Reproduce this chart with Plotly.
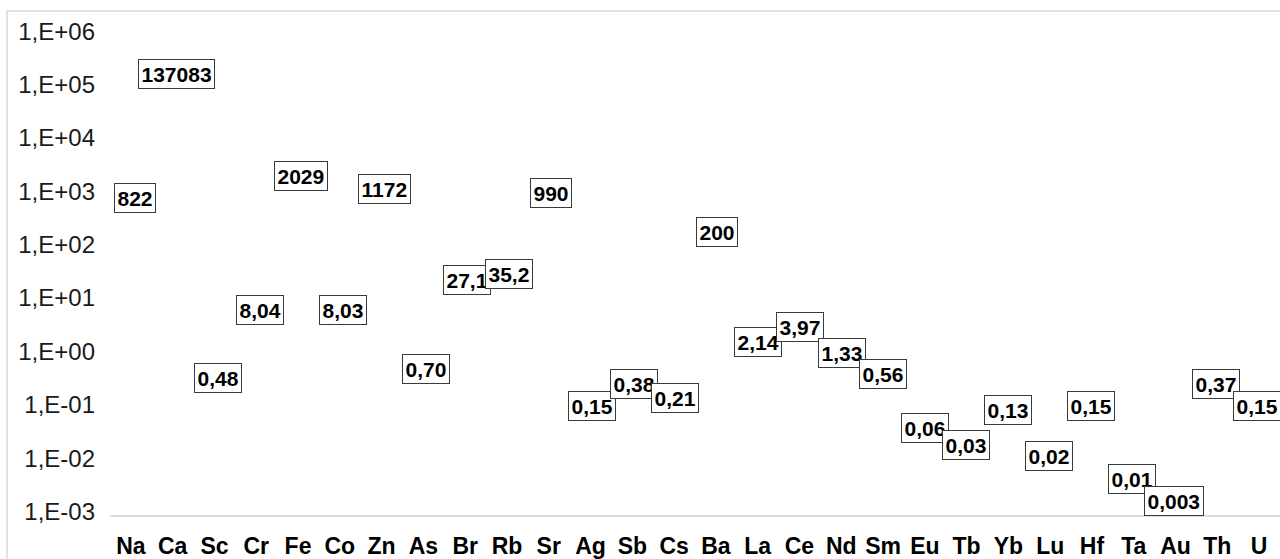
import math
import plotly.graph_objects as go

elements = ["Na", "Ca", "Sc", "Cr", "Fe", "Co", "Zn", "As", "Br", "Rb", "Sr", "Ag", "Sb", "Cs",
            "Ba", "La", "Ce", "Nd", "Sm", "Eu", "Tb", "Yb", "Lu", "Hf", "Ta", "Au", "Th", "U"]
values = [822, 137083, 0.48, 8.04, 2029, 8.03, 1172, 0.70, 27.1, 35.2, 990, 0.15, 0.38, 0.21,
          200, 2.14, 3.97, 1.33, 0.56, 0.06, 0.03, 0.13, 0.019, 0.15, 0.0074, 0.003, 0.37, 0.15]
labels = ["822", "137083", "0,48", "8,04", "2029", "8,03", "1172", "0,70", "27,1", "35,2", "990",
          "0,15", "0,38", "0,21", "200", "2,14", "3,97", "1,33", "0,56", "0,06", "0,03", "0,13",
          "0,02", "0,15", "0,01", "0,003", "0,37", "0,15"]
tick_vals = [1e-3, 1e-2, 1e-1, 1e0, 1e1, 1e2, 1e3, 1e4, 1e5, 1e6]
tick_text = ["1,E-03", "1,E-02", "1,E-01", "1,E+00", "1,E+01", "1,E+02",
             "1,E+03", "1,E+04", "1,E+05", "1,E+06"]

FONT = "Liberation Sans, Arial, sans-serif"

fig = go.Figure()
fig.add_trace(go.Scatter(x=elements, y=values, xaxis="x", yaxis="y", mode="markers",
                         marker=dict(opacity=0), hoverinfo="skip"))
fig.add_trace(go.Scatter(x=elements, y=values, xaxis="x2", yaxis="y2", mode="markers",
                         marker=dict(opacity=0), hoverinfo="skip"))

annotations = []
for el, v, t in zip(elements, values, labels):
    annotations.append(dict(
        x=el, y=math.log10(v), xref="x2", yref="y2", text=t, showarrow=False,
        xanchor="center", yanchor="middle",
        font=dict(family=FONT, size=21, color="#000000", weight="bold"),
        bgcolor="#ffffff", bordercolor="#3a3a3a", borderwidth=1, borderpad=2.5,
    ))

fig.update_layout(
    width=1280, height=559,
    margin=dict(l=110, r=0, t=20, b=41),
    paper_bgcolor="#ffffff", plot_bgcolor="#ffffff",
    showlegend=False,
    annotations=annotations,
    xaxis=dict(type="category", categoryorder="array", categoryarray=elements,
               range=[-0.5, 27.5], showline=True, linecolor="#dcdcdc", linewidth=2,
               showgrid=False, zeroline=False, ticks="", ticklabelstandoff=9,
               tickfont=dict(family=FONT, size=23, color="#000000", weight="bold")),
    yaxis=dict(type="log", range=[-3.065, 6.209], tickvals=tick_vals, ticktext=tick_text,
               showgrid=False, zeroline=False, showline=False, ticks="",
               ticklabelstandoff=14,
               tickfont=dict(family=FONT, size=24, color="#1a1a1a")),
    xaxis2=dict(type="category", categoryorder="array", categoryarray=elements,
                range=[-0.6015, 27.55], overlaying="x", anchor="y2", visible=False),
    yaxis2=dict(type="log", range=[-2.775, 6.102], overlaying="y", anchor="x2", visible=False),
    shapes=[dict(type="rect", xref="paper", yref="paper", x0=-0.088, x1=1.2, y0=-0.3, y1=1.018,
                 line=dict(color="#d9d9d9", width=1.5), fillcolor="rgba(0,0,0,0)", layer="below")],
)

fig.write_html("out.html")
